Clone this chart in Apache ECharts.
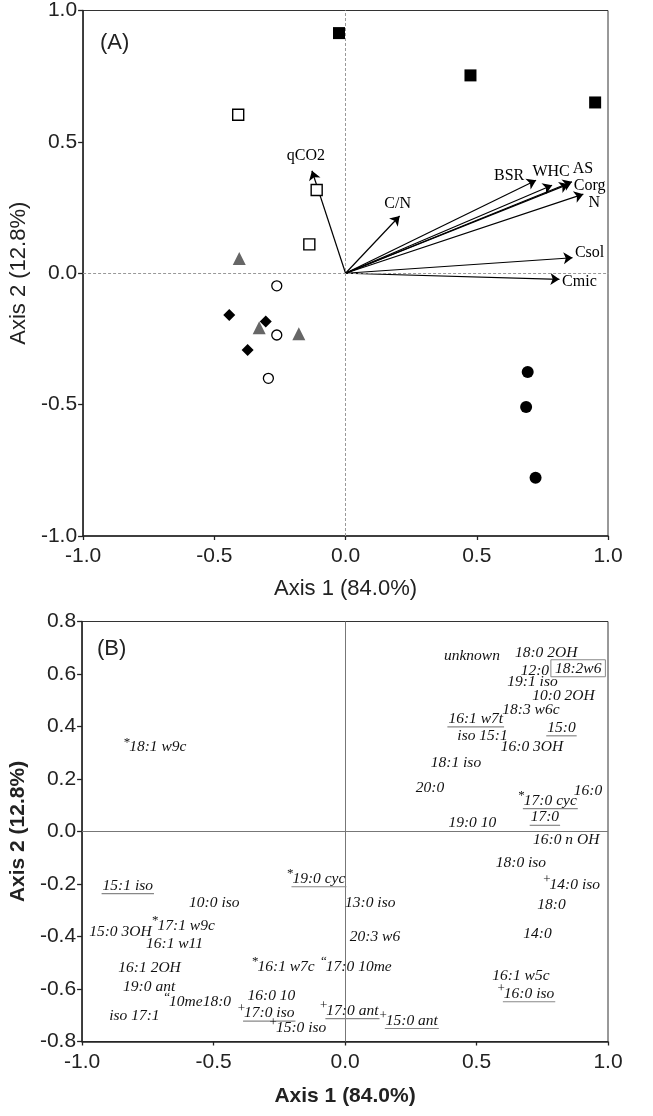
<!DOCTYPE html>
<html><head><meta charset="utf-8">
<script src="https://cdn.jsdelivr.net/npm/echarts@6/dist/echarts.min.js"></script>
<style>html,body{margin:0;padding:0;background:#fff}#c{width:653px;height:1116px}</style>
</head><body><div id="c"></div>
<script>
// ---------- Panel A data ----------
const axisTicksA = [-1.0, -0.5, 0.0, 0.5, 1.0];
const vecNames = ['qCO2','C/N','BSR','WHC','AS','Corg','N','Csol','Cmic'];
const vecX = [-0.128, 0.206, 0.726, 0.787, 0.863, 0.850, 0.906, 0.865, 0.815];
const vecY = [0.390, 0.218, 0.354, 0.335, 0.348, 0.339, 0.301, 0.059, -0.023];
const filledSqX = [-0.025, 0.476, 0.951];
const filledSqY = [0.914, 0.753, 0.650];
const openSqX = [-0.409, -0.110, -0.138];
const openSqY = [0.603, 0.317, 0.110];
const triX = [-0.405, -0.329, -0.178];
const triY = [0.056, -0.207, -0.230];
const openCircX = [-0.262, -0.262, -0.294];
const openCircY = [-0.048, -0.235, -0.400];
const diamondX = [-0.443, -0.304, -0.373];
const diamondY = [-0.159, -0.184, -0.292];
const filledCircX = [0.694, 0.688, 0.724];
const filledCircY = [-0.376, -0.509, -0.778];

// ---------- Panel B data ----------
const bNames = ['18:1 w9c','unknown','18:0 2OH','12:0','18:2w6','19:1 iso','10:0 2OH','18:3 w6c','16:1 w7t','iso 15:1',
  '15:0','16:0 3OH','18:1 iso','20:0','16:0','17:0 cyc','17:0','19:0 10','16:0 n OH','18:0 iso',
  '14:0 iso','18:0','13:0 iso','14:0','20:3 w6','17:0 10me','16:1 w5c','16:0 iso','17:0 ant','15:0 ant',
  '15:1 iso','10:0 iso','19:0 cyc','15:0 3OH','17:1 w9c','16:1 w11','16:1 2OH','16:1 w7c','19:0 ant','10me18:0',
  '16:0 10','17:0 iso','iso 17:1','15:0 iso'];
const bPrefix = ['*','','','','','','','','','',
  '','','','','','*','','','','',
  '+','','','','','\u201C','','+','+','+',
  '','','*','','*','','','*','','\u201C',
  '','+','','+'];
const bMark = ['','','','','box','','','','u','',
  'u','','','','','u','u','','','',
  '','','','','','','','u','u','u',
  'u','','u','','','','','','','',
  '','u','',''];
const bX = [-0.821,0.376,0.646,0.668,0.798,0.617,0.712,0.598,0.393,0.427,
  0.769,0.592,0.326,0.269,0.870,0.680,0.706,0.393,0.715,0.573,
  0.778,0.731,0.000,0.678,0.018,-0.073,0.560,0.604,-0.071,0.155,
  -0.922,-0.593,-0.200,-0.973,-0.713,-0.757,-0.862,-0.333,-0.844,-0.669,
  -0.371,-0.384,-0.897,-0.263];
const bY = [0.321,0.670,0.679,0.613,0.620,0.569,0.518,0.463,0.429,0.366,
  0.395,0.324,0.260,0.166,0.153,0.118,0.054,0.032,-0.032,-0.121,
  -0.202,-0.278,-0.273,-0.390,-0.400,-0.514,-0.552,-0.618,-0.682,-0.720,
  -0.206,-0.272,-0.180,-0.383,-0.358,-0.428,-0.519,-0.514,-0.593,-0.650,
  -0.628,-0.692,-0.701,-0.748];
const axisTicksBY = [-0.8,-0.6,-0.4,-0.2,0.0,0.2,0.4,0.6,0.8];

// ---------- styles ----------
const vecLabelOffset = [[-6,-15],[-2,-12],[-27,-4],[-1,-13],[11,-13],[21,2],[11,9],[17,-5],[20,3]];
const sans = "'Liberation Sans', Arial, sans-serif";
const serif = "'Liberation Serif', 'Times New Roman', serif";
const bFont = "italic 15.5px " + serif;
const mctx = document.createElement('canvas').getContext('2d');
function textW(t, f){ mctx.font = f; return mctx.measureText(t).width; }

const zip = (xs, ys) => xs.map((x, i) => [x, ys[i]]);
const axisLineStyle = {color:'#222', width:1.5};

function xAxisCfg(gi, bold){
  return {gridIndex:gi, type:'value', min:-1, max:1, interval:0.5,
    name:'Axis 1 (84.0%)', nameLocation:'middle', nameGap: bold ? 44 : 42,
    nameTextStyle:{fontFamily:sans, fontSize: bold?21:22, fontWeight: bold?'bold':'normal', color:'#222'},
    axisLine:{show:true, onZero:false, lineStyle:axisLineStyle},
    axisTick:{show:true, length:4, lineStyle:{color:'#222', width:1.3}},
    axisLabel:{fontFamily:sans, fontSize:21, color:'#222', margin:10, formatter:v=>v.toFixed(1)},
    splitLine:{show:false}};
}
function yAxisCfg(gi, bold, min, max, interval){
  return {gridIndex:gi, type:'value', min:min, max:max, interval:interval,
    name:'Axis 2 (12.8%)', nameLocation:'middle', nameGap:52,
    nameTextStyle:{fontFamily:sans, fontSize: bold?21:22, fontWeight: bold?'bold':'normal', color:'#222'},
    axisLine:{show:true, onZero:false, lineStyle:axisLineStyle},
    axisTick:{show:true, length:5, lineStyle:{color:'#222', width:1.3}},
    axisLabel:{fontFamily:sans, fontSize:21, color:'#222', margin:6, formatter:v=>v.toFixed(1)},
    splitLine:{show:false}};
}

function pts(xs, ys, symbol, size, style){
  return {type:'scatter', xAxisIndex:0, yAxisIndex:0, symbol:symbol, symbolSize:size, z:5,
    itemStyle:Object.assign({opacity:1}, style), emphasis:{disabled:true}, data:zip(xs, ys)};
}

const chart = echarts.init(document.getElementById('c'), null, {renderer:'canvas'});
const option = {
  animation:false,
  backgroundColor:'#fff',
  grid:[
    {left:82, top:10, width:526, height:526, show:true, borderColor:'#333', borderWidth:1, backgroundColor:'transparent'},
    {left:82, top:621.5, width:526, height:420, show:true, borderColor:'#333', borderWidth:1, backgroundColor:'transparent'}
  ],
  xAxis:[xAxisCfg(0,false), xAxisCfg(1,true)],
  yAxis:[yAxisCfg(0,false,-1,1,0.5), yAxisCfg(1,true,-0.8,0.8,0.2)],
  graphic:[
    {type:'text', left:100, top:32, style:{text:'(A)', font:"22px "+sans, fill:'#222'}},
    {type:'text', left:97, top:638, style:{text:'(B)', font:"22px "+sans, fill:'#222'}}
  ],
  series:[
    // zero lines A (dashed)
    {type:'scatter', xAxisIndex:0, yAxisIndex:0, data:[], silent:true,
      markLine:{silent:true, symbol:'none', label:{show:false}, lineStyle:{color:'#999', type:[3,2], width:1},
        data:[{xAxis:0},{yAxis:0}]}},
    // zero lines B (solid)
    {type:'scatter', xAxisIndex:1, yAxisIndex:1, data:[], silent:true,
      markLine:{silent:true, symbol:'none', label:{show:false}, lineStyle:{color:'#777', type:'solid', width:1},
        data:[{xAxis:0},{yAxis:0}]}},
    // vectors
    {type:'lines', coordinateSystem:'cartesian2d', xAxisIndex:0, yAxisIndex:0, z:3,
      symbol:['none','arrow'], symbolSize:[0,9],
      lineStyle:{color:'#000', width:1.2, opacity:1},
      data: vecX.map((x,i)=>({coords:[[0,0],[x, vecY[i]]]}))},
    {type:'scatter', xAxisIndex:0, yAxisIndex:0, symbolSize:0, z:4, itemStyle:{opacity:1}, emphasis:{disabled:true},
      data: vecX.map((x,i)=>({value:[x, vecY[i]], name:vecNames[i],
        label:{show:true, position:'inside', offset:vecLabelOffset[i], formatter:vecNames[i],
          fontFamily:serif, fontSize:16, color:'#000', opacity:1}}))},
    // samples
    pts(filledSqX, filledSqY, 'rect', 12, {color:'#000'}),
    pts(openSqX, openSqY, 'rect', 11, {color:'#fff', borderColor:'#000', borderWidth:1.4}),
    pts(triX, triY, 'triangle', 13, {color:'#666'}),
    pts(openCircX, openCircY, 'circle', 10, {color:'#fff', borderColor:'#000', borderWidth:1.3}),
    pts(diamondX, diamondY, 'diamond', 12, {color:'#000'}),
    pts(filledCircX, filledCircY, 'circle', 12, {color:'#000'}),
    // panel B labels
    {type:'custom', xAxisIndex:1, yAxisIndex:1, clip:false, z:5,
      data: zip(bX, bY),
      renderItem:function(params, api){
        const i = params.dataIndex;
        const p = api.coord([api.value(0), api.value(1)]);
        const t = bNames[i];
        const w = textW(t, bFont);
        const ch = [{type:'text', x:p[0], y:p[1], style:{text:t, font:bFont, fill:'#111', align:'left', verticalAlign:'middle'}}];
        if (bPrefix[i]) {
          ch.push({type:'text', x:p[0]+1, y:p[1]-5, style:{text:bPrefix[i], font:"13px "+serif, fill:'#111', align:'right', verticalAlign:'middle'}});
        }
        if (bMark[i]==='u') {
          ch.push({type:'line', shape:{x1:p[0]-1, y1:p[1]+8, x2:p[0]+w+1, y2:p[1]+8}, style:{stroke:'#888', lineWidth:1.2}});
        } else if (bMark[i]==='box') {
          ch.push({type:'rect', shape:{x:p[0]-4, y:p[1]-9, width:w+8, height:17}, style:{fill:null, stroke:'#888', lineWidth:1}});
        }
        return {type:'group', children:ch};
      }}
  ]
};
chart.setOption(option);
</script>
</body></html>
